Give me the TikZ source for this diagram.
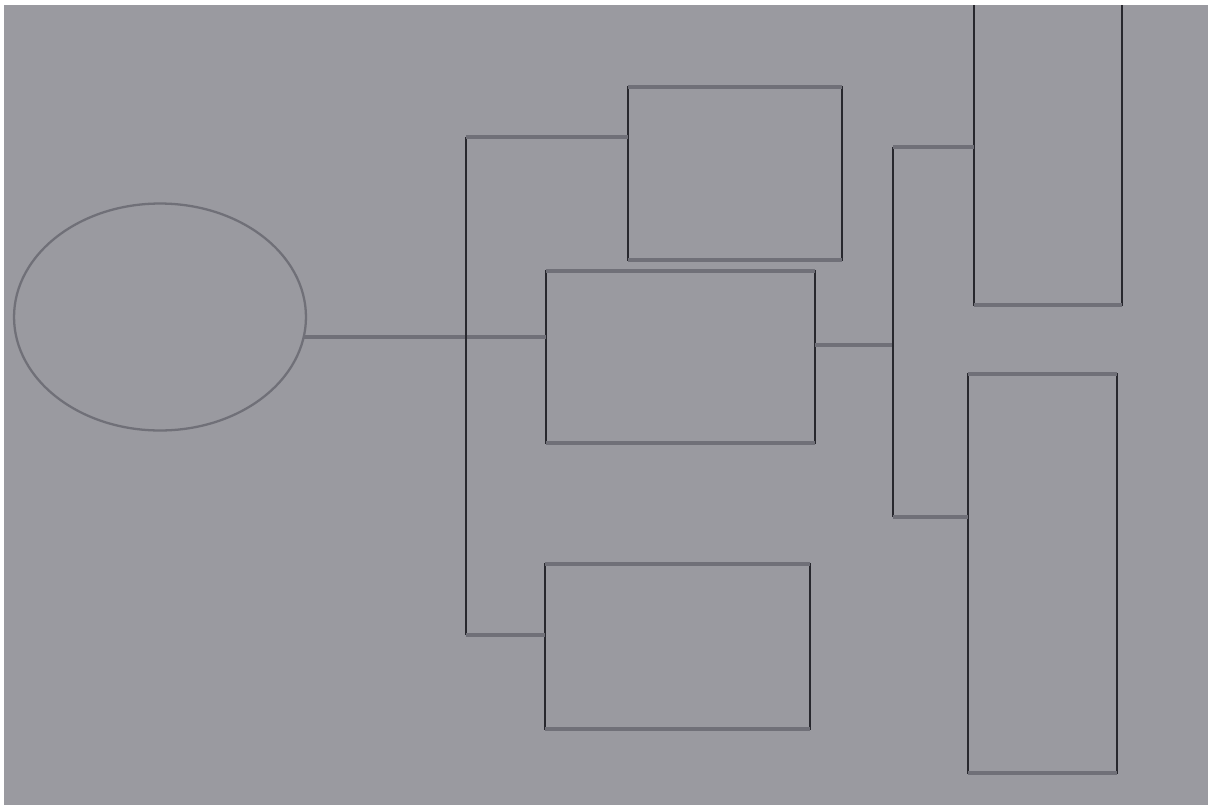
\documentclass[tikz,border=0pt]{standalone}
\usepackage{tikz}
\usetikzlibrary{positioning,calc,shapes.geometric}
\definecolor{paper}{RGB}{154,154,160}
\definecolor{inkdark}{RGB}{40,40,46}
\definecolor{inkblur}{RGB}{112,112,120}
\tikzset{
  % Base styles
  diagram base/.style={
    x=0.02cm, y=-0.02cm,
    every node/.style={font=\small},
  },
  % Nodes
  root node/.style={ellipse, draw=inkblur, line width=1.3pt, minimum width=5.84cm, minimum height=4.54cm, inner sep=0pt, outer sep=0pt},
  box node/.style={rectangle, draw=inkdark, line width=0.7pt, inner sep=0pt, outer sep=0pt},
  % Connectors
  link/.style={draw=inkblur, line width=2.6pt},
  trunk/.style={draw=inkdark, line width=0.7pt},
  % Blurred top and bottom edges
  edge blur/.style={draw=inkblur, line width=2.6pt},
}

\begin{document}
\begin{tikzpicture}[diagram base]
\useasboundingbox (0,0) rectangle (1220,805);
\fill[white] (0,0) rectangle (1220,805);
\fill[paper] (4,5) rectangle (1208,805);
\clip (4,5) rectangle (1208,805);

% Start (left)
\node[root node] (root) at (160,317) {};

% Middle column
\node[box node, minimum width=4.28cm, minimum height=3.46cm] (upper) at (735,173.5) {};
\node[box node, minimum width=5.38cm, minimum height=3.44cm] (middle) at (680.5,357) {};
\node[box node, minimum width=5.30cm, minimum height=3.30cm] (lower) at (677.5,646.5) {};

% Right column
\node[box node, minimum width=2.96cm, minimum height=6.50cm] (rtop) at (1048,142.5) {};
\node[box node, minimum width=2.98cm, minimum height=7.98cm] (rbot) at (1042.5,573.5) {};

% Blurred horizontal edges
\foreach \b in {upper,middle,lower,rtop,rbot} {
  \draw[edge blur] (\b.north west) -- (\b.north east);
  \draw[edge blur] (\b.south west) -- (\b.south east);
}

% Left branch points
\coordinate (lt) at (466,137);
\coordinate (lb) at (466,635);
% Right branch points
\coordinate (rt) at (893,147);
\coordinate (rb) at (893,517);

% Root to middle
\draw[link] (root.-8) -- (root.-8 -| middle.west);

% Left fork
\draw[trunk] (lt) -- (lb);
\draw[link] (lt) -- (lt -| upper.west);
\draw[link] (lb) -- (lb -| lower.west);

% Right fork
\draw[link] (middle.east |- 0,345) -- (rt |- 0,345);
\draw[trunk] (rt) -- (rb);
\draw[link] (rt) -- (rt -| rtop.west);
\draw[link] (rb) -- (rb -| rbot.west);
\end{tikzpicture}
\end{document}
